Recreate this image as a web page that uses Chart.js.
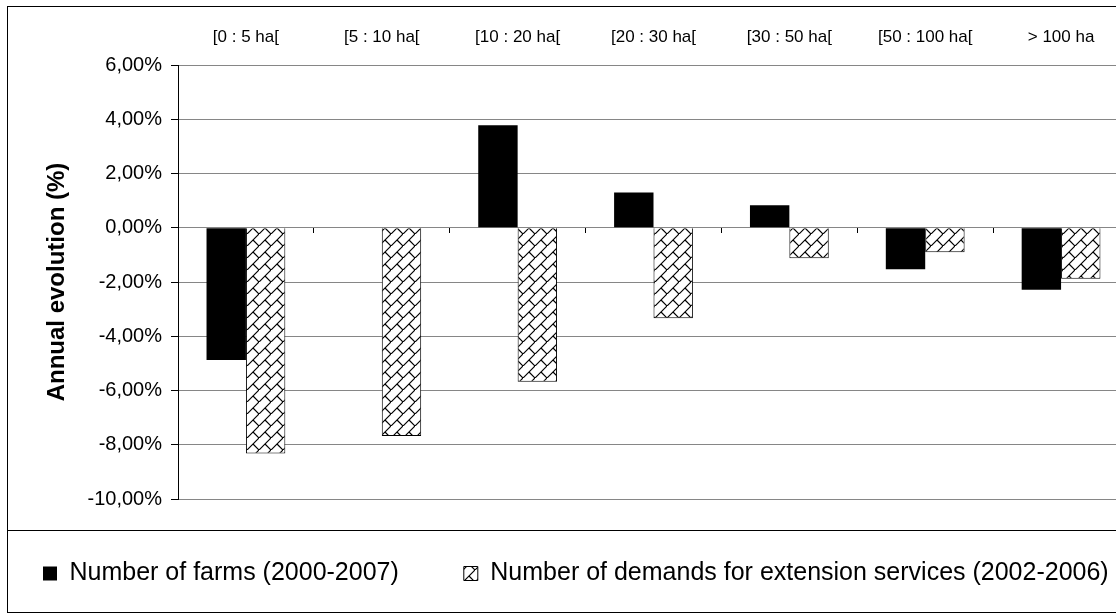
<!DOCTYPE html>
<html>
<head>
<meta charset="utf-8">
<script src="https://cdn.jsdelivr.net/npm/chart.js@4.4.1/dist/chart.umd.min.js"></script>
<style>
  html, body { margin: 0; padding: 0; background: #fff; overflow: hidden; width: 1116px; height: 613px; }
  #wrap { position: absolute; left: 7px; top: 6px; width: 1200px; height: 607px; }
</style>
</head>
<body>
<div id="wrap"><canvas id="evol"></canvas></div>
<script>
// farm size classes
const classes = ['[0 : 5 ha[', '[5 : 10 ha[', '[10 : 20 ha[', '[20 : 30 ha[', '[30 : 50 ha[', '[50 : 100 ha[', '> 100 ha'];
// annual evolution, %
const farms = [-4.88, null, 3.78, 1.30, 0.83, -1.53, -2.29];
const demands = [-8.32, -7.68, -5.68, -3.34, -1.12, -0.90, -1.88];
const seriesNames = ['Number of farms (2000-2007)', 'Number of demands for extension services (2002-2006)'];
const yTitle = 'Annual evolution (%)';

Chart.defaults.font.family = "'Liberation Sans', Arial, sans-serif";
Chart.defaults.color = '#000';

// diagonal brick hatch
function brick() {
  const s = 12;
  const c = document.createElement('canvas');
  c.width = s; c.height = s;
  const g = c.getContext('2d');
  g.fillStyle = '#fff';
  g.fillRect(0, 0, s, s);
  g.strokeStyle = '#000';
  g.lineWidth = 1.2;
  g.beginPath();
  g.moveTo(-1, s + 1); g.lineTo(s + 1, -1);
  g.moveTo(s / 2, s / 2); g.lineTo(s + 1, s + 1);
  g.stroke();
  return g.createPattern(c, 'repeat');
}

// frame + line above legend
const frame = {
  id: 'frame',
  afterLayout(chart) {
    // legend sits a bit left / higher than chart.js puts it
    const lg = chart.legend;
    lg.left -= 29; lg.right -= 29;
    lg.top -= 3; lg.bottom -= 3;
  },
  afterDraw(chart) {
    const ctx = chart.ctx;
    ctx.save();
    ctx.strokeStyle = '#000';
    ctx.lineWidth = 1;
    ctx.strokeRect(0.5, 0.5, chart.width + 10, 606);
    ctx.beginPath();
    ctx.moveTo(0, 524.5);
    ctx.lineTo(chart.width, 524.5);
    ctx.stroke();
    ctx.restore();
  }
};

const ctx = document.getElementById('evol').getContext('2d');
new Chart(ctx, {
  type: 'bar',
  data: {
    labels: classes,
    datasets: [{
      label: seriesNames[0],
      data: farms,
      backgroundColor: '#000',
      borderWidth: 0
    }, {
      label: seriesNames[1],
      data: demands,
      backgroundColor: brick(),
      borderColor: '#000',
      borderWidth: 1
    }]
  },
  options: {
    responsive: true,
    maintainAspectRatio: false,
    animation: false,
    layout: { padding: { bottom: 14 } },
    datasets: {
      bar: { categoryPercentage: 0.58, barPercentage: 1 }
    },
    plugins: {
      tooltip: { enabled: false },
      legend: {
        position: 'bottom',
        align: 'start',
        labels: {
          font: { size: 25 },
          boxWidth: 14,
          boxHeight: 14,
          padding: 65
        }
      }
    },
    scales: {
      x: {
        position: 'top',
        grid: { display: false, drawTicks: false },
        border: { display: false },
        ticks: { font: { size: 17 }, padding: 17, maxRotation: 0, autoSkip: false },
        afterFit: s => { s.height = 59; }
      },
      x2: {
        type: 'category',
        position: { y: 0 },
        offset: true,
        grid: { offset: true, drawOnChartArea: false, tickLength: 5, color: '#000' },
        border: { display: false },
        ticks: { display: false }
      },
      y: {
        min: -10,
        max: 6,
        ticks: {
          stepSize: 2,
          font: { size: 20 },
          padding: 9,
          callback: v => v.toFixed(2).replace('.', ',') + '%'
        },
        grid: { color: '#868686', tickColor: '#000', tickLength: 7 },
        border: { color: '#000', width: 1 },
        title: {
          display: true,
          text: yTitle,
          font: { size: 24, weight: 'bold' },
          padding: { top: 36, bottom: 0 }
        },
        afterFit: s => { s.width = 171; }
      },
      // empty strip on the right, plot runs past the picture edge
      yR: {
        type: 'linear',
        position: 'right',
        grid: { display: false },
        border: { display: false },
        ticks: { display: false },
        afterFit: s => { s.width = 78; }
      }
    }
  },
  plugins: [frame]
});
</script>
</body>
</html>
